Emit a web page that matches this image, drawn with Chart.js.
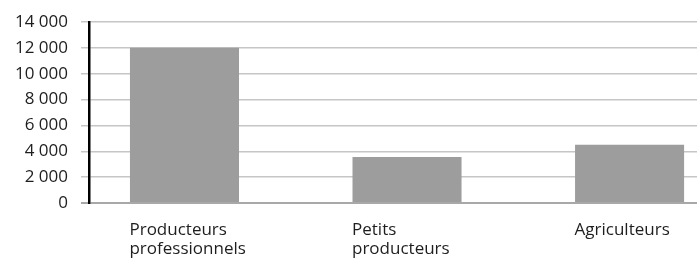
<!DOCTYPE html>
<html>
<head>
<meta charset="utf-8">
<script src="https://cdn.jsdelivr.net/npm/chart.js@4/dist/chart.umd.min.js"></script>
<style>
  html, body { margin: 0; padding: 0; background: #fff; overflow: hidden; }
  #wrap { width: 697px; height: 260px; position: relative; }
</style>
</head>
<body>
<div id="wrap"><canvas id="chart"></canvas></div>
<script>
"use strict";

// ── data ──────────────────────────────────────────────────────────────────────
const categories = [["Producteurs", "professionnels"], ["Petits", "producteurs"], ["Agriculteurs"]];
const positions  = [0, 1, 2];
const values     = [12000, 3550, 4500];
const yTicks     = [0, 2000, 4000, 6000, 8000, 10000, 12000, 14000];

const fmt = v => String(v).replace(/\B(?=(\d{3})+(?!\d))/g, " ");
const FAMILY = "'Open Sans', 'Noto Sans', sans-serif";

new Chart(document.getElementById("chart"), {
  type: "bar",
  data: {
    datasets: [{
      data: positions.map((x, i) => ({ x, y: values[i] })),
      backgroundColor: "#9d9d9d",
      borderWidth: 0,
      categoryPercentage: 1,
      barPercentage: 0.49,
    }],
  },
  options: {
    responsive: true,
    maintainAspectRatio: false,
    animation: false,
    layout: { padding: { top: 22, left: 0, right: 0, bottom: 0 } },
    plugins: { legend: { display: false }, tooltip: { enabled: false } },
    scales: {
      x: {
        type: "linear",
        offset: false,
        min: -0.429,
        max: 2.303,
        grid: { display: false, drawTicks: false },
        border: { display: false },
        afterBuildTicks: s => { s.ticks = positions.map(v => ({ value: v })); },
        afterFit: s => { s.height = 57; s.paddingLeft = 0; s.paddingRight = 0; },
        ticks: {
          autoSkip: false,
          maxRotation: 0,
          minRotation: 0,
          align: "start",
          labelOffset: -55,
          padding: 18,
          color: "#1e1e1e",
          font: { family: FAMILY, size: 17, lineHeight: 1.1 },
          callback: v => categories[v],
        },
      },
      y: {
        min: 0,
        max: 14000,
        afterBuildTicks: s => { s.ticks = yTicks.map(v => ({ value: v })); },
        afterFit: s => { s.width = 89; s.paddingTop = 0; s.paddingBottom = 0; },
        grid: {
          color: ctx => ctx.tick && ctx.tick.value === 0 ? "#a8a8a8" : "#c6c6c6",
          lineWidth: ctx => ctx.tick && ctx.tick.value === 0 ? 2 : 1.5,
          tickLength: 8,
        },
        border: { display: true, color: "#000", width: 2.5 },
        ticks: {
          padding: 13,
          color: "#1e1e1e",
          font: { family: FAMILY, size: 17 },
          callback: v => fmt(v),
        },
      },
    },
  },
});
</script>
</body>
</html>
